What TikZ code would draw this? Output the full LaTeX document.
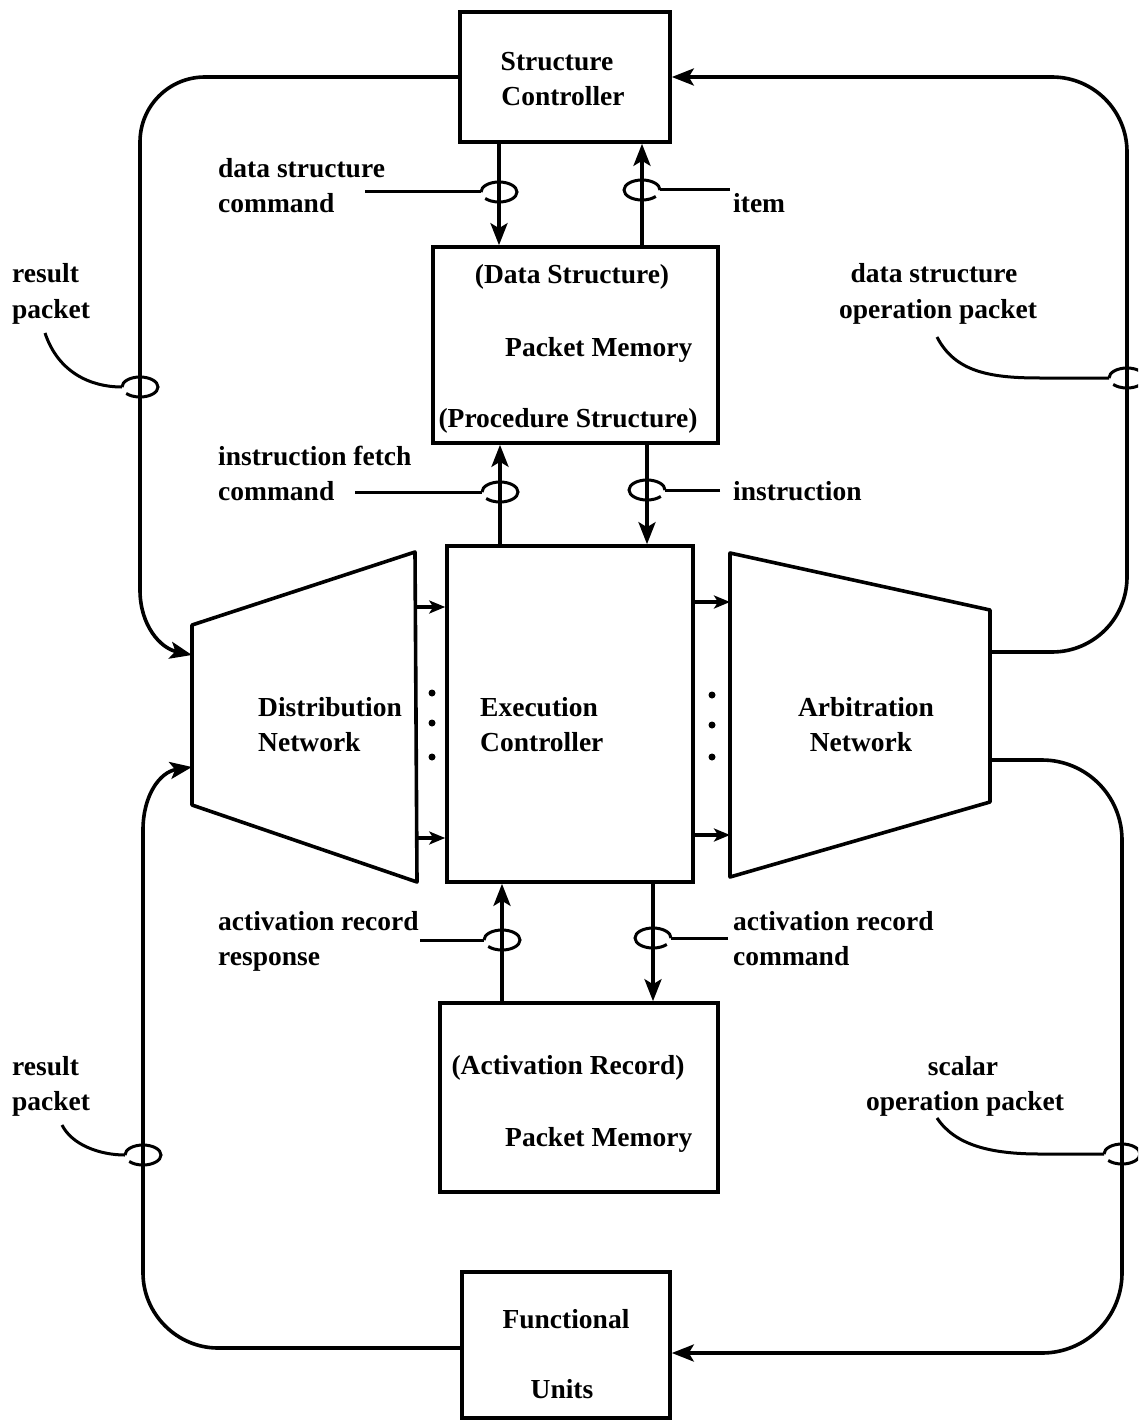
\documentclass[tikz,border=0pt]{standalone}
\usepackage{fontspec}
\setmainfont{Liberation Serif}
\usetikzlibrary{arrows.meta,calc}
\newcommand\lloop[1]{\draw[thinw] ([xshift=-18pt]#1) arc[start angle=180,end angle=-140,x radius=18pt,y radius=10pt];}
\newcommand\rloop[1]{\draw[thinw] ([xshift=18pt]#1) arc[start angle=0,end angle=320,x radius=18pt,y radius=10pt];}
\begin{document}
\begin{tikzpicture}[x=1pt,y=-1pt,
  wire/.style={line width=3.6pt},
  thinw/.style={line width=3pt},
  arr/.style={-{Stealth[length=22pt,width=17pt,inset=5pt]}},
  sarr/.style={-{Stealth[length=16pt,width=13pt,inset=4pt]}},
  box/.style={draw,line width=3.6pt,inner sep=0pt},
  txt/.style={font=\bfseries\fontsize{27.5}{35}\selectfont,inner sep=0pt},
  lt/.style={txt,anchor=base west},
  ct/.style={txt,anchor=base},
]
\useasboundingbox (0,0) rectangle (1138,1420);
\clip (0,0) rectangle (1138,1420);

% boxes
\node[box,minimum width=210pt,minimum height=130pt] (sc) at (565,77) {};
\node[box,minimum width=285pt,minimum height=196pt] (pm1) at (575.5,345) {};
\node[box,minimum width=246pt,minimum height=336pt] (ec) at (570,714) {};
\node[box,minimum width=278pt,minimum height=189pt] (pm2) at (579,1097.5) {};
\node[box,minimum width=208pt,minimum height=146pt] (fu) at (566,1345) {};

% trapezoids
\coordinate (dn1) at (192,625); \coordinate (dn2) at (415,552);
\coordinate (dn3) at (417,882); \coordinate (dn4) at (192,805);
\draw[wire,line join=round] (dn1) -- (dn2) -- (dn3) -- (dn4) -- cycle;
\coordinate (an1) at (730,553); \coordinate (an2) at (990,610);
\coordinate (an3) at (990,802); \coordinate (an4) at (730,877);
\draw[wire,line join=round] (an1) -- (an2) -- (an3) -- (an4) -- cycle;

% connection points
\coordinate (dnA) at (192,655); \coordinate (dnB) at (192,767);
\coordinate (dnO1) at (417,607); \coordinate (dnO2) at (417,838);
\coordinate (anI1) at (730,602); \coordinate (anI2) at (730,835);
\coordinate (anO1) at (990,652); \coordinate (anO2) at (990,760);

\draw[wire,sarr] (dnO1) -- (dnO1 -| ec.west);
\draw[wire,sarr] (dnO2) -- (dnO2 -| ec.west);
\draw[wire,sarr] (anI1 -| ec.east) -- (anI1);
\draw[wire,sarr] (anI2 -| ec.east) -- (anI2);

% dots
\foreach \yy in {693,723,757} {\fill (432,\yy) circle[radius=3.5pt];}
\foreach \yy in {695,725,757} {\fill (712,\yy) circle[radius=3.5pt];}

% vertical columns
\coordinate (xa) at (499,0); \coordinate (xb) at (642,0);
\coordinate (xc) at (500,0); \coordinate (xd) at (647,0);
\coordinate (xe) at (502,0); \coordinate (xf) at (653,0);
\draw[wire,arr] (sc.south -| xa) -- (pm1.north -| xa);
\draw[wire,arr] (pm1.north -| xb) -- (sc.south -| xb);
\draw[wire,arr] (ec.north -| xc) -- (pm1.south -| xc);
\draw[wire,arr] (pm1.south -| xd) -- (ec.north -| xd);
\draw[wire,arr] (pm2.north -| xe) -- (ec.south -| xe);
\draw[wire,arr] (ec.south -| xf) -- (pm2.north -| xf);

% outer loops
\draw[wire,arr] (sc.west) -- (205,77) .. controls (169,77) and (140,106) .. (140,142)
  -- (140,590) .. controls (140,625) and (160,648) .. (dnA);
\draw[wire,arr] ([yshift=-3pt]fu.west) -- (218,1348) .. controls (177,1348) and (143,1314) .. (143,1273)
  -- (143,830) .. controls (143,795) and (160,772) .. (dnB);
\draw[wire,arr,rounded corners=75pt] (anO1) -- (1127,652) -- (1127,77) -- (sc.east);
\draw[wire,arr,rounded corners=80pt] (anO2) -- (1122,760) -- (1122,1353) -- ([yshift=-8pt]fu.east);

% loop markers
\coordinate (l1) at (499,192); \coordinate (l2) at (642,190);
\coordinate (l3) at (500,492); \coordinate (l4) at (647,490);
\coordinate (l5) at (502,940); \coordinate (l6) at (653,938);
\coordinate (p1) at (140,387); \coordinate (p2) at (143,1155);
\coordinate (p3) at (1127,378); \coordinate (p4) at (1122,1154);
\lloop{l1} \rloop{l2} \lloop{l3} \rloop{l4} \lloop{l5} \rloop{l6}
\lloop{p1} \lloop{p2} \lloop{p3} \lloop{p4}

% label leaders
\coordinate (t1) at (365,192); \coordinate (t2) at (730,190);
\coordinate (t3) at (355,492); \coordinate (t4) at (720,490);
\coordinate (t5) at (420,940); \coordinate (t6) at (728,938);
\draw[thinw] (t1) -- ([xshift=-18pt]l1);
\draw[thinw] (t2) -- ([xshift=18pt]l2);
\draw[thinw] (t3) -- ([xshift=-18pt]l3);
\draw[thinw] (t4) -- ([xshift=18pt]l4);
\draw[thinw] (t5) -- ([xshift=-18pt]l5);
\draw[thinw] (t6) -- ([xshift=18pt]l6);
\coordinate (q1) at (45,333); \coordinate (q2) at (62,1125);
\coordinate (q3) at (937,337); \coordinate (q4) at (937,1118);
\draw[thinw] (q1) .. controls (58,372) and (90,387) .. ([xshift=-18pt]p1);
\draw[thinw] (q2) .. controls (72,1145) and (100,1155) .. ([xshift=-18pt]p2);
\draw[thinw] (q3) .. controls (955,372) and (990,378) .. (1040,378) -- ([xshift=-18pt]p3);
\draw[thinw] (q4) .. controls (955,1145) and (990,1154) .. (1040,1154) -- ([xshift=-18pt]p4);

% texts
\node[ct] (sc1) at (557,71) {Structure};
\node[ct] (sc2) at (563,106) {Controller};
\node[lt] (dsc1) at (218,178) {data structure};
\node[lt] (dsc2) at (218,213) {command};
\node[lt] (itm) at (733,213) {item};
\node[lt] (rp1) at (12,283) {result};
\node[lt] (rp2) at (12,318) {packet};
\node[ct] (dso1) at (934,283) {data structure};
\node[ct] (dso2) at (938,318) {operation packet};
\node[ct] (pm1a) at (572,284) {(Data Structure)};
\node[lt] (pm1b) at (505,356) {Packet Memory};
\node[ct] (pm1c) at (568,427) {(Procedure Structure)};
\node[lt] (ifc1) at (218,465) {instruction fetch};
\node[lt] (ifc2) at (218,500) {command};
\node[lt] (ins) at (733,500) {instruction};
\node[lt] (dnt1) at (258,716) {Distribution};
\node[lt] (dnt2) at (258,751) {Network};
\node[lt] (ect1) at (480,716) {Execution};
\node[lt] (ect2) at (480,751) {Controller};
\node[ct] (ant1) at (866,716) {Arbitration};
\node[ct] (ant2) at (861,751) {Network};
\node[lt] (arr1) at (218,930) {activation record};
\node[lt] (arr2) at (218,965) {response};
\node[lt] (arc1) at (733,930) {activation record};
\node[lt] (arc2) at (733,965) {command};
\node[lt] (rp3) at (12,1075) {result};
\node[lt] (rp4) at (12,1110) {packet};
\node[ct] (pm2a) at (568,1074) {(Activation Record)};
\node[lt] (pm2b) at (505,1146) {Packet Memory};
\node[ct] (so1) at (963,1075) {scalar};
\node[ct] (so2) at (965,1110) {operation packet};
\node[ct] (fu1) at (566,1328) {Functional};
\node[ct] (fu2) at (562,1398) {Units};
\end{tikzpicture}
\end{document}
